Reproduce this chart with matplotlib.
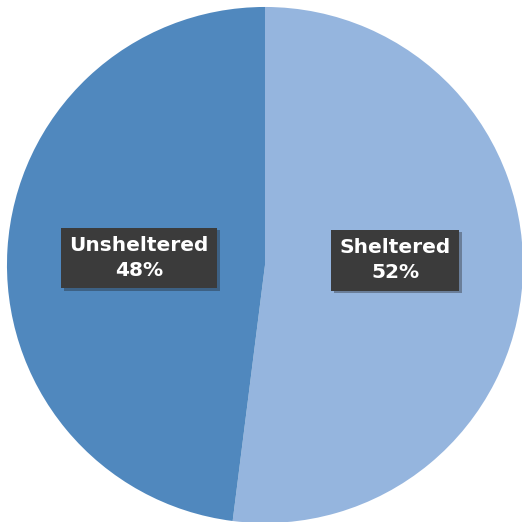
import matplotlib
matplotlib.use('Agg')
from matplotlib import pyplot as plt
import matplotlib.patheffects as pe

labels = ['Sheltered', 'Unsheltered']
shares = [52, 48]
colors = ['#95b5de', '#5088be']
label_pos = [(0.504, 0.019), (-0.488, 0.027)]

fig = plt.figure(figsize=(5.22, 5.22), dpi=100)
ax = fig.add_axes([0, 0, 1, 1])
ax.pie(shares, colors=colors, startangle=90, counterclock=False,
       wedgeprops={'linewidth': 0})
ax.set_xlim(-1.027, 0.996)
ax.set_ylim(-0.996, 1.027)
ax.set_aspect('equal')
ax.axis('off')

for name, val, (x, y) in zip(labels, shares, label_pos):
    t = ax.text(x, y, '%s\n%d%%' % (name, val), ha='center', va='center',
                color='white', fontsize=14.5, fontweight='bold',
                family='DejaVu Sans', linespacing=1.4,
                bbox=dict(boxstyle='square,pad=0.42', fc='#3b3b3b', ec='none'))
    t.get_bbox_patch().set_path_effects([
        pe.SimplePatchShadow(offset=(2, -2), shadow_rgbFace='#1a1a1a', alpha=0.35),
        pe.Normal()])

fig.savefig('out.png', dpi=100)
